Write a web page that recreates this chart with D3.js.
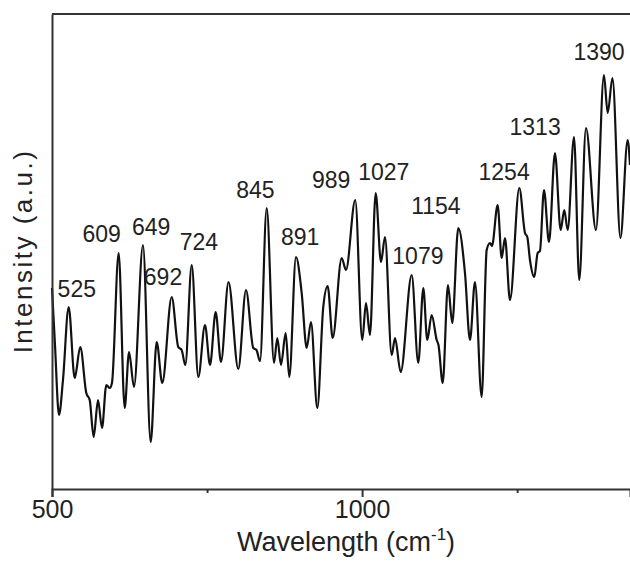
<!DOCTYPE html>
<html>
<head>
  <meta charset="utf-8">
  <title>Raman spectrum</title>
  <script src="https://d3js.org/d3.v7.min.js"></script>
  <style>
    body { margin: 0; background: #fff; }
    text { font-family: "Liberation Sans", Arial, sans-serif; fill: #222; }
  </style>
</head>
<body>
  <div id="chart"></div>

  <script>
    // spectrum (wavenumber in cm-1, intensity in arbitrary units)
    var wavenumber = [
      500, 504.8, 511.3, 517.7, 526.9, 536.6, 545.6, 555.3, 560.8, 567.2,
      574.2, 580.6, 587.6, 593.0, 596.7, 607.5, 617.2, 624.2, 632.2, 646.7,
      659.1, 668.8, 677.8, 693.0, 703.6, 709.1, 714.9, 725.3, 735.9, 746.7,
      754.8, 763.9, 772.5, 784.6, 800.4, 812.8, 824.6, 829.7, 835.4, 846.2,
      858.0, 863.3, 869.2, 876.8, 882.6, 893.4, 902.6, 910.7, 917.6, 927.8,
      937.4, 944.5, 952.6, 967.1, 974.0, 989.0, 1000.3, 1006.3, 1012.7, 1021.9,
      1030.5, 1036.9, 1047.7, 1053.1, 1062.2, 1080.0, 1090.6, 1098.7, 1105.1, 1112.2,
      1120.3, 1123.2, 1130.0, 1138.5, 1145.4, 1155.1, 1165.9, 1174.0, 1182.0, 1192.8,
      1200.9, 1206.2, 1209.4, 1218.6, 1225.1, 1230.4, 1238.5, 1253.5, 1262.7, 1266.4,
      1270.7, 1277.7, 1283.1, 1286.8, 1293.3, 1301.4, 1311.0, 1320.2, 1326.0, 1331.5,
      1341.7, 1350.2, 1361.0, 1377.1, 1390.0, 1396.0, 1403.7, 1416.6, 1428.2, 1432
    ];
    var intensity = [
      402, 288, 148, 218, 364, 222, 284, 192, 178, 104,
      178, 122, 208, 202, 212, 472, 162, 274, 204, 488,
      94, 294, 212, 384, 284, 278, 248, 448, 224, 328,
      248, 354, 254, 414, 240, 398, 282, 278, 256, 562,
      252, 302, 248, 312, 224, 464, 392, 282, 334, 162,
      364, 406, 302, 462, 438, 578, 298, 372, 308, 592,
      454, 504, 268, 302, 234, 428, 252, 402, 298, 348,
      298, 288, 212, 408, 332, 522, 432, 298, 414, 184,
      478, 492, 486, 568, 462, 502, 378, 602, 512, 504,
      458, 424, 472, 476, 598, 494, 672, 518, 558, 518,
      704, 418, 722, 518, 828, 752, 822, 502, 698, 648
    ];

    // peak annotations: text, wavenumber at text centre, intensity at baseline
    var peakLabels = ["525", "609", "649", "692", "724", "845", "891", "989",
                      "1027", "1079", "1154", "1254", "1313", "1390"];
    var peakLabelX = [540, 580, 660, 679, 737, 828, 900, 950,
                      1035, 1090, 1119, 1229, 1279, 1382];
    var peakLabelY = [384, 495, 508, 408, 479, 583, 488, 602,
                      619, 451, 551, 618, 708, 858];

    var xTicks = [500, 750, 1000, 1250];
    var xTickLabels = { 500: "500", 1000: "1000" };

    var width = 630, height = 561;
    var margin = { top: 14, right: 0, bottom: 72, left: 52 };

    var x = d3.scaleLinear().domain([500, 1432]).range([margin.left, width - margin.right]);
    var y = d3.scaleLinear().domain([0, 950]).range([height - margin.bottom, margin.top]);

    var svg = d3.select("#chart")
      .append("svg")
      .attr("width", width)
      .attr("height", height);

    // spectrum line
    var points = wavenumber.map(function(d, i) { return [d, intensity[i]]; });
    var line = d3.line()
      .x(function(d) { return x(d[0]); })
      .y(function(d) { return y(d[1]); })
      .curve(d3.curveMonotoneX);

    svg.append("path")
      .datum(points)
      .attr("fill", "none")
      .attr("stroke", "#111")
      .attr("stroke-width", 2.2)
      .attr("stroke-linejoin", "round")
      .attr("d", line);

    // axes
    var xAxis = d3.axisBottom(x)
      .tickValues(xTicks)
      .tickSizeOuter(0)
      .tickSize(8)
      .tickFormat(function(d) { return xTickLabels[d] || ""; });

    var gx = svg.append("g")
      .attr("transform", "translate(0," + (height - margin.bottom) + ")")
      .call(xAxis);
    gx.select(".domain").attr("stroke", "#333").attr("stroke-width", 2);
    gx.selectAll(".tick line")
      .attr("stroke", "#333")
      .attr("stroke-width", 2)
      .attr("y2", function(d) { return xTickLabels[d] ? 8 : 4; });
    gx.selectAll(".tick text")
      .attr("y", 11)
      .attr("dy", "0.71em")
      .style("font-size", "25px")
      .style("font-family", "Liberation Sans, Arial, sans-serif")
      .attr("fill", "#222");

    var gy = svg.append("g")
      .attr("transform", "translate(" + margin.left + ",0)")
      .call(d3.axisLeft(y).tickValues([]).tickSizeOuter(0));
    gy.select(".domain").attr("stroke", "#333").attr("stroke-width", 2);

    // top border
    svg.append("line")
      .attr("x1", margin.left).attr("x2", width)
      .attr("y1", margin.top).attr("y2", margin.top)
      .attr("stroke", "#333").attr("stroke-width", 2);

    // peak labels
    svg.selectAll(".peak")
      .data(peakLabels)
      .enter().append("text")
      .attr("class", "peak")
      .attr("x", function(d, i) { return x(peakLabelX[i]); })
      .attr("y", function(d, i) { return y(peakLabelY[i]); })
      .attr("text-anchor", "middle")
      .style("font-size", "23px")
      .text(function(d) { return d; });

    // axis titles
    var xt = svg.append("text")
      .attr("x", 346)
      .attr("y", 551)
      .attr("text-anchor", "middle")
      .style("font-size", "27px");
    xt.append("tspan").text("Wavelength (cm");
    xt.append("tspan").attr("dy", -11).style("font-size", "17px").text("-1");
    xt.append("tspan").attr("dy", 11).text(")");

    svg.append("text")
      .attr("transform", "translate(32,251) rotate(-90)")
      .attr("text-anchor", "middle")
      .style("font-size", "26px")
      .style("letter-spacing", "2.5px")
      .text("Intensity (a.u.)");
  </script>
</body>
</html>
